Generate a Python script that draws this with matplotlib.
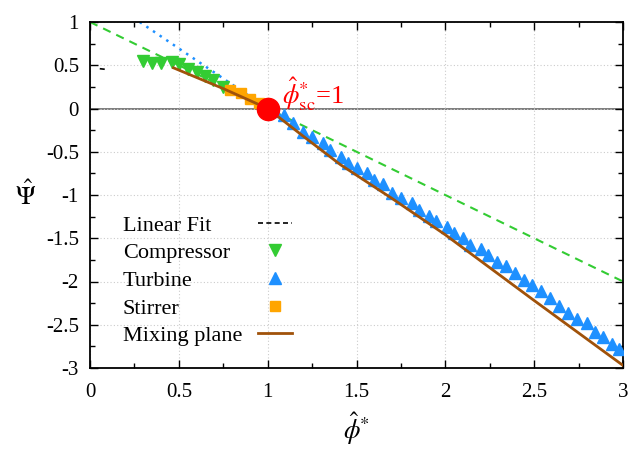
import numpy as np
import matplotlib
matplotlib.use('Agg')
import matplotlib.pyplot as plt
from matplotlib.ticker import MultipleLocator

plt.rcParams['font.family'] = ['Liberation Serif', 'DejaVu Serif']
plt.rcParams['mathtext.fontset'] = 'stix'

# data
comp_x = [0.30, 0.35, 0.40, 0.46, 0.50, 0.55, 0.60, 0.65, 0.69, 0.75]
comp_y = [0.55, 0.53, 0.53, 0.54, 0.51, 0.46, 0.42, 0.37, 0.33, 0.25]

turb_x = [1.04, 1.09, 1.14, 1.20, 1.25, 1.31, 1.35, 1.41, 1.45, 1.50,
          1.56, 1.60, 1.65, 1.70, 1.75, 1.81, 1.85, 1.91, 1.95, 2.01,
          2.05, 2.10, 2.14, 2.20, 2.24, 2.29, 2.34, 2.39, 2.44, 2.49,
          2.54, 2.59, 2.64, 2.69, 2.74, 2.80, 2.84, 2.89, 2.94, 2.98]
turb_y = [-0.03, -0.08, -0.17, -0.27, -0.33, -0.40, -0.48, -0.56, -0.63, -0.69,
          -0.75, -0.83, -0.87, -0.98, -1.03, -1.09, -1.17, -1.24, -1.30, -1.37,
          -1.44, -1.50, -1.58, -1.62, -1.69, -1.78, -1.82, -1.90, -1.98, -2.04,
          -2.11, -2.19, -2.28, -2.36, -2.43, -2.48, -2.58, -2.64, -2.72, -2.78]

stir_x = [0.79, 0.85, 0.90, 0.95]
stir_y = [0.21, 0.18, 0.11, 0.06]

mix_x = [0.47, 0.75, 1.0, 1.2, 1.41, 1.7, 2.0, 2.5, 3.0]
mix_y = [0.47, 0.23, 0.0, -0.32, -0.65, -1.04, -1.46, -2.22, -2.97]

fit_x = [0.055, 0.10]
fit_y = [0.46, 0.45]

green_x = [0.0, 3.0]
green_y = [1.0, -2.0]

blue_x = [0.28, 1.05]
blue_y = [1.0, -0.07]

sc_x = [1.0]
sc_y = [0.0]

fig = plt.figure(figsize=(6.34, 4.5), dpi=100)
ax = fig.add_axes([90/634, 1-368/450, (623-90)/634, (368-22)/450])

ax.axhline(0, color='#666666', lw=1.2, zorder=1)
ax.plot(green_x, green_y, color='#33cc33', lw=1.5, ls=(0, (4, 3)), zorder=2)
ax.plot(blue_x, blue_y, color='#1e90ff', lw=1.8, ls=(0, (1, 2.2)), zorder=2)
l_fit, = ax.plot(fit_x, fit_y, color='black', lw=1.2, ls=(0, (3, 2)), label='Linear Fit')
l_comp, = ax.plot(comp_x, comp_y, 'v', color='#33cc33', ms=9, ls='none', label='Compressor', zorder=3)
l_turb, = ax.plot(turb_x, turb_y, '^', color='#1e90ff', ms=9, ls='none', label='Turbine', zorder=3)
l_stir, = ax.plot(stir_x, stir_y, 's', color='#ffa500', ms=6.5, ls='none', label='Stirrer', zorder=3)
l_mix, = ax.plot(mix_x, mix_y, color='#a0520a', lw=2, label='Mixing plane', zorder=4)
ax.plot(sc_x, sc_y, 'o', color='red', ms=16, zorder=5)

ax.text(1.08, 0.06, r'$\hat{\phi}^{*}_{\mathrm{sc}}$=1', color='red', fontsize=19)

ax.set_xlim(0, 3)
ax.set_ylim(-3, 1)
ax.xaxis.set_minor_locator(MultipleLocator(0.25))
ax.yaxis.set_minor_locator(MultipleLocator(0.25))
ax.set_xticks([0, 0.5, 1, 1.5, 2, 2.5, 3])
ax.set_xticklabels(['0', '0.5', '1', '1.5', '2', '2.5', '3'])
ax.set_yticks([1, 0.5, 0, -0.5, -1, -1.5, -2, -2.5, -3])
ax.set_yticklabels(['1', '0.5', '0', '-0.5', '-1', '-1.5', '-2', '-2.5', '-3'])
ax.tick_params(which='both', direction='in', top=True, right=True, labelsize=15)
ax.tick_params(which='major', length=6, width=1)
ax.tick_params(which='minor', length=3.5, width=1)
ax.tick_params(axis='x', pad=11)
ax.tick_params(axis='y', pad=8)
for s in ax.spines.values():
    s.set_linewidth(1.3)
ax.grid(True, which='major', color='#cccccc', ls=(0, (1, 2)), lw=0.8)

ax.set_xlabel(r'$\hat{\phi}^{*}$', fontsize=19, labelpad=6)
ax.set_ylabel(r'$\hat{\mathit{\Psi}}$', fontsize=19, rotation=0, labelpad=15, va='center')

leg = ax.legend(handles=[l_fit, l_comp, l_turb, l_stir, l_mix], markerfirst=False,
                frameon=False, fontsize=16, loc='upper left', bbox_to_anchor=(0.045, 0.468),
                handlelength=1.5, handletextpad=0.72, labelspacing=0.32, borderaxespad=0)

# left-align label texts while keeping handles in one column
renderer = fig.canvas.get_renderer()
texts = leg.get_texts()
widths = [t.get_window_extent(renderer).width for t in texts]
wmax = max(widths)
col = leg._legend_handle_box.get_children()[0]
for row, w in zip(col.get_children(), widths):
    row.sep = leg.handletextpad * leg._fontsize + (wmax - w) * 72 / fig.dpi

fig.savefig('out.png', dpi=100)
